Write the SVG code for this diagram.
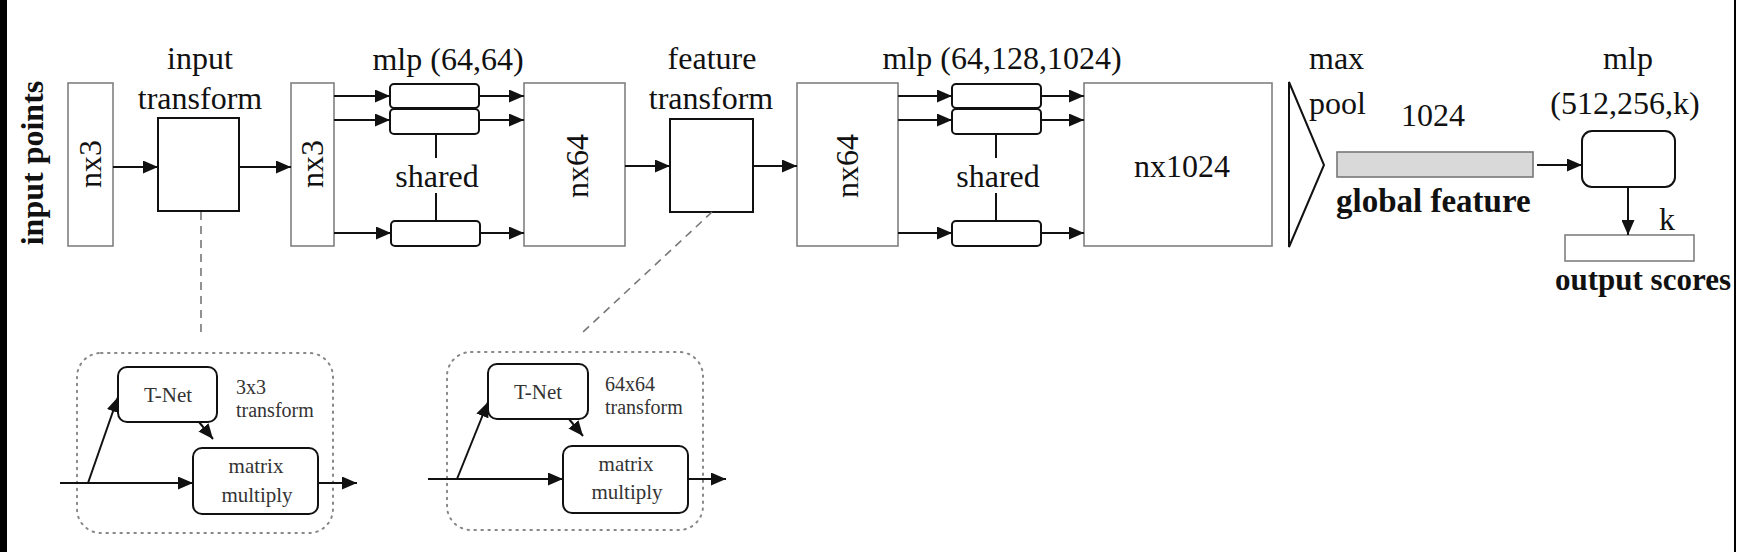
<svg xmlns="http://www.w3.org/2000/svg" width="1737" height="552" viewBox="0 0 1737 552">
<style>
  text { font-family: "Liberation Serif", "Times New Roman", serif; fill: #111; }
  .lbl { font-size: 32px; }
  .bold { font-size: 32px; font-weight: bold; }
  .sm { font-size: 21px; fill: #333; }
  .sm2 { font-size: 20px; fill: #333; }
  .gbox { fill: #fff; stroke: #808080; stroke-width: 1.6; }
  .kbox { fill: #fff; stroke: #111; stroke-width: 2; }
  .rbox { fill: #fff; stroke: #111; stroke-width: 2; }
  .conn { stroke: #111; stroke-width: 2; fill: none; }
  .arr { marker-end: url(#ah); }
  .dash { stroke: #777; stroke-width: 1.6; stroke-dasharray: 8 6; fill: none; }
  .dot { fill: none; stroke: #888; stroke-width: 2; stroke-dasharray: 1.5 5.5; stroke-linecap: round; }
  .mid { text-anchor: middle; }
</style>
<defs>
  <marker id="ah" markerUnits="userSpaceOnUse" markerWidth="15" markerHeight="13" refX="15" refY="6.5" orient="auto">
    <path d="M0,0 L15,6.5 L0,13 z" fill="#111"/>
  </marker>
</defs>
<rect x="0" y="0" width="1737" height="552" fill="#fff"/>
<rect x="0" y="0" width="7" height="552" fill="#000"/>
<rect x="1734" y="0" width="2" height="552" fill="#000"/>

<g id="input-points-label">
  <text class="bold mid" transform="translate(32,163) rotate(-90)" dy="0.35em">input points</text>
</g>

<g id="nx3-a">
  <rect class="gbox" x="68" y="83" width="45" height="163"/>
  <text class="lbl mid" transform="translate(90,164) rotate(-90)" dy="0.35em">nx3</text>
</g>

<g id="input-transform">
  <text class="lbl mid" x="200" y="69">input</text>
  <text class="lbl mid" x="200" y="109">transform</text>
  <rect class="kbox" x="158" y="118" width="81" height="93"/>
</g>

<g id="nx3-b">
  <rect class="gbox" x="291" y="83" width="43" height="163"/>
  <text class="lbl mid" transform="translate(312,164) rotate(-90)" dy="0.35em">nx3</text>
</g>

<g id="mlp1">
  <text class="lbl mid" x="448" y="70">mlp (64,64)</text>
  <rect class="rbox" x="390" y="84" width="89" height="24" rx="4"/>
  <rect class="rbox" x="390" y="109" width="89" height="25" rx="4"/>
  <rect class="rbox" x="391" y="221" width="89" height="25" rx="4"/>
  <text class="lbl mid" x="437" y="187">shared</text>
</g>

<g id="nx64-a">
  <rect class="gbox" x="524" y="83" width="101" height="163"/>
  <text class="lbl mid" transform="translate(577,166) rotate(-90)" dy="0.35em">nx64</text>
</g>

<g id="feature-transform">
  <text class="lbl mid" x="712" y="69">feature</text>
  <text class="lbl mid" x="711" y="109">transform</text>
  <rect class="kbox" x="670" y="119" width="83" height="93"/>
</g>

<g id="nx64-b">
  <rect class="gbox" x="797" y="83" width="101" height="163"/>
  <text class="lbl mid" transform="translate(847,166) rotate(-90)" dy="0.35em">nx64</text>
</g>

<g id="mlp2">
  <text class="lbl mid" x="1002" y="69">mlp (64,128,1024)</text>
  <rect class="rbox" x="952" y="84" width="89" height="24" rx="4"/>
  <rect class="rbox" x="952" y="109" width="89" height="25" rx="4"/>
  <rect class="rbox" x="952" y="221" width="89" height="25" rx="4"/>
  <text class="lbl mid" x="998" y="187">shared</text>
</g>

<g id="nx1024">
  <rect class="gbox" x="1084" y="83" width="188" height="163"/>
  <text class="lbl mid" x="1182" y="177">nx1024</text>
</g>

<g id="maxpool">
  <polygon points="1289,82 1324,165 1289,247" fill="#fff" stroke="#111" stroke-width="2" stroke-linejoin="miter"/>
  <text class="lbl" x="1309" y="69">max</text>
  <text class="lbl" x="1309" y="114">pool</text>
</g>

<g id="global-feature">
  <text class="lbl mid" x="1433" y="126">1024</text>
  <rect x="1337" y="152" width="196" height="25" fill="#d9d9d9" stroke="#777" stroke-width="1.6"/>
  <text class="bold" x="1336" y="212" style="font-size:33px">global feature</text>
</g>

<g id="mlp3">
  <text class="lbl mid" x="1628" y="69">mlp</text>
  <text class="lbl mid" x="1625" y="114">(512,256,k)</text>
  <rect class="rbox" x="1582" y="131" width="93" height="56" rx="10"/>
</g>

<g id="output-scores">
  <text class="lbl" x="1659" y="230">k</text>
  <rect class="gbox" x="1565" y="235" width="129" height="26"/>
  <text class="bold" x="1555" y="290" style="font-size:31px">output scores</text>
</g>

<g id="tnet-3x3">
  <rect class="dot" x="77" y="353" width="256" height="180" rx="24"/>
  <rect class="rbox" x="118" y="367" width="99" height="55" rx="9"/>
  <text class="sm mid" x="168" y="402">T-Net</text>
  <text class="sm2" x="236" y="394">3x3</text>
  <text class="sm2" x="236" y="417">transform</text>
  <rect class="rbox" x="193" y="448" width="125" height="66" rx="9"/>
  <text class="sm mid" x="256" y="473">matrix</text>
  <text class="sm mid" x="257" y="502">multiply</text>
</g>

<g id="tnet-64x64">
  <rect class="dot" x="447" y="352" width="256" height="178" rx="24"/>
  <rect class="rbox" x="488" y="364" width="100" height="55" rx="9"/>
  <text class="sm mid" x="538" y="399">T-Net</text>
  <text class="sm2" x="605" y="391">64x64</text>
  <text class="sm2" x="605" y="414">transform</text>
  <rect class="rbox" x="563" y="446" width="125" height="67" rx="9"/>
  <text class="sm mid" x="626" y="471">matrix</text>
  <text class="sm mid" x="627" y="499">multiply</text>
</g>

<g id="connectors">
  <line class="conn arr" x1="113" y1="167" x2="158" y2="167"/>
  <line class="conn arr" x1="239" y1="167" x2="291" y2="167"/>
  <line class="conn arr" x1="334" y1="96" x2="390" y2="96"/>
  <line class="conn arr" x1="334" y1="120" x2="390" y2="120"/>
  <line class="conn arr" x1="334" y1="233" x2="391" y2="233"/>
  <line class="conn arr" x1="479" y1="96" x2="524" y2="96"/>
  <line class="conn arr" x1="479" y1="120" x2="524" y2="120"/>
  <line class="conn arr" x1="480" y1="233" x2="524" y2="233"/>
  <line class="conn" x1="436" y1="134" x2="436" y2="158"/>
  <line class="conn" x1="436" y1="193" x2="436" y2="221"/>
  <line class="conn arr" x1="625" y1="166" x2="670" y2="166"/>
  <line class="conn arr" x1="753" y1="166" x2="797" y2="166"/>
  <line class="conn arr" x1="898" y1="96" x2="952" y2="96"/>
  <line class="conn arr" x1="898" y1="120" x2="952" y2="120"/>
  <line class="conn arr" x1="898" y1="233" x2="952" y2="233"/>
  <line class="conn arr" x1="1041" y1="96" x2="1084" y2="96"/>
  <line class="conn arr" x1="1041" y1="120" x2="1084" y2="120"/>
  <line class="conn arr" x1="1041" y1="233" x2="1084" y2="233"/>
  <line class="conn" x1="996" y1="134" x2="996" y2="158"/>
  <line class="conn" x1="996" y1="193" x2="996" y2="221"/>
  <line class="conn arr" x1="1537" y1="165" x2="1582" y2="165"/>
  <line class="conn arr" x1="1628" y1="187" x2="1628" y2="235"/>
  <line class="dash" x1="201" y1="212" x2="201" y2="332"/>
  <line class="dash" x1="712" y1="212" x2="583" y2="332"/>
  <line class="conn arr" x1="60" y1="483" x2="193" y2="483"/>
  <line class="conn arr" x1="88" y1="483" x2="118" y2="397"/>
  <line class="conn arr" x1="199" y1="422" x2="213" y2="439"/>
  <line class="conn arr" x1="318" y1="483" x2="357" y2="483"/>
  <line class="conn arr" x1="428" y1="479" x2="563" y2="479"/>
  <line class="conn arr" x1="457" y1="479" x2="488" y2="402"/>
  <line class="conn arr" x1="569" y1="419" x2="583" y2="436"/>
  <line class="conn arr" x1="688" y1="479" x2="726" y2="479"/>
</g>
</svg>
